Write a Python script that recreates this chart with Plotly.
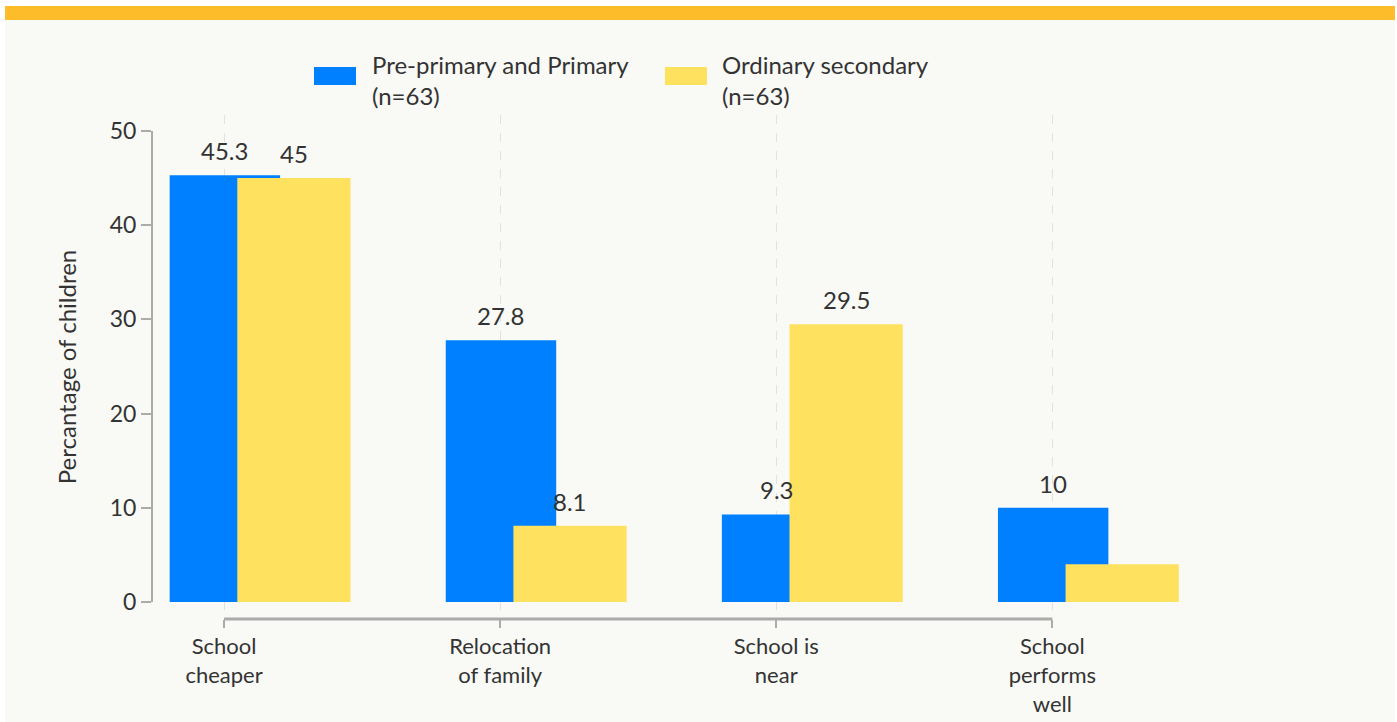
import plotly.graph_objects as go

categories = ["School<br>cheaper", "Relocation<br>of family", "School is<br>near", "School<br>performs<br>well"]
series_names = ["Pre-primary and Primary<br>(n=63)", "Ordinary secondary<br>(n=63)"]
primary = [45.3, 27.8, 9.3, 10]
secondary = [45, 8.1, 29.5, 4]
primary_labels = ["45.3", "27.8", "9.3", "10"]
secondary_labels = ["45", "8.1", "29.5", ""]
y_ticks = [0, 10, 20, 30, 40, 50]

BLUE = "#0080FF"
YELLOW = "#FFE160"
ORANGE = "#FDBD2A"
BG = "#F9FAF6"
AXIS = "#ABABAB"
TEXT = "#333333"
FONT = "Lato"

W, H = 1397, 722
L, R, T, B = 152, 179, 115, 103
PW, PH = W - L - R, H - T - B


def px_x(p):
    return (p - L) / PW


def px_y(p):
    return (H - B - p) / PH


xs = list(range(len(categories)))
bw = 0.40
off_blue = -0.197
off_yel = 0.048

fig = go.Figure()
fig.add_trace(go.Bar(x=xs, y=primary, width=bw, offset=off_blue, marker_color=BLUE,
                     marker_line_width=0, name=series_names[0], showlegend=False))
fig.add_trace(go.Bar(x=xs, y=secondary, width=bw + 0.01, offset=off_yel, marker_color=YELLOW,
                     marker_line_width=0, name=series_names[1], showlegend=False))

annotations = []
for i in xs:
    if primary_labels[i]:
        annotations.append(dict(x=i + off_blue + bw / 2, y=primary[i], xref="x", yref="y",
                                text=primary_labels[i], showarrow=False, yanchor="bottom",
                                yshift=8, font=dict(size=24, color=TEXT, family=FONT)))
    if secondary_labels[i]:
        annotations.append(dict(x=i + off_yel + (bw + 0.01) / 2, y=secondary[i], xref="x", yref="y",
                                text=secondary_labels[i], showarrow=False, yanchor="bottom",
                                yshift=8, font=dict(size=24, color=TEXT, family=FONT)))

# legend drawn by hand (wide swatches)
legend_items = [(314, 370, BLUE, series_names[0]), (665, 720, YELLOW, series_names[1])]
shapes = [
    dict(type="rect", xref="paper", yref="paper", x0=px_x(5), x1=px_x(1395), y0=px_y(722), y1=px_y(6),
         fillcolor=BG, line_width=0, layer="below"),
    dict(type="rect", xref="paper", yref="paper", x0=px_x(5), x1=px_x(1395), y0=px_y(20), y1=px_y(6),
         fillcolor=ORANGE, line_width=0, layer="below"),
    dict(type="line", xref="paper", yref="y", x0=0, x1=0, y0=0, y1=50,
         line=dict(color=AXIS, width=2)),
    dict(type="line", xref="x", yref="paper", x0=0, x1=3, y0=0, y1=0,
         line=dict(color=AXIS, width=3)),
]
for sx, tx, col, name in legend_items:
    shapes.append(dict(type="rect", xref="paper", yref="paper", x0=px_x(sx), x1=px_x(sx + 42),
                       y0=px_y(85), y1=px_y(67), fillcolor=col, line_width=0))
    annotations.append(dict(x=px_x(tx), y=px_y(48), xref="paper", yref="paper", text=name,
                            showarrow=False, xanchor="left", yanchor="top", align="left",
                            font=dict(size=24, color=TEXT, family=FONT)))

fig.update_layout(
    width=W, height=H,
    margin=dict(l=L, r=R, t=T, b=B, autoexpand=False),
    paper_bgcolor="white",
    plot_bgcolor="rgba(0,0,0,0)",
    barmode="overlay",
    font=dict(family=FONT, size=24, color=TEXT),
    shapes=shapes,
    annotations=annotations,
    xaxis=dict(
        range=[-0.261, 3.6],
        tickvals=xs, ticktext=categories,
        showline=False, zeroline=False,
        showgrid=True, gridcolor="#E2E2E2", griddash="dash", gridwidth=1,
        ticks="outside", ticklen=8, tickwidth=2, tickcolor=AXIS,
        tickfont=dict(size=22, color=TEXT),
    ),
    yaxis=dict(
        range=[-1.8, 51.7],
        tickvals=y_ticks,
        showline=False, zeroline=False, showgrid=False,
        ticks="outside", ticklen=10, tickwidth=2, tickcolor=AXIS,
        tickfont=dict(size=23, color=TEXT),
        title=dict(text="Percantage of children", standoff=26, font=dict(size=24, color=TEXT)),
    ),
)

fig.write_html("out.html", config={"displayModeBar": False},
               post_script="document.body.style.margin='0';")
